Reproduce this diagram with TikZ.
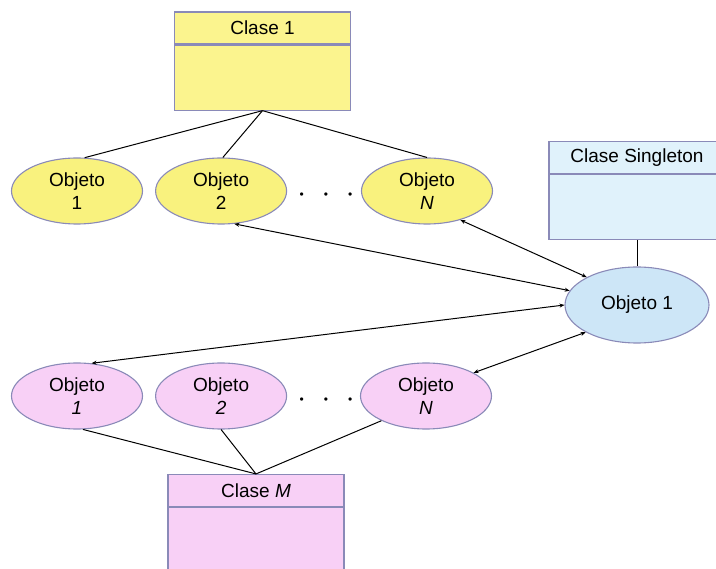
\documentclass[tikz,border=0pt]{standalone}
\usepackage{fontspec}
\setmainfont{Liberation Sans}
\usepackage{tikz}
\usetikzlibrary{arrows.meta,positioning,shapes.geometric}
\definecolor{borde}{HTML}{8A8AB8}
\definecolor{amarillo}{HTML}{F9F27E}
\definecolor{amarillobox}{HTML}{FBF48E}
\definecolor{rosa}{HTML}{F8D0F6}
\definecolor{azul}{HTML}{CDE6F7}
\definecolor{azulbox}{HTML}{E0F2FB}

\begin{document}
\begin{tikzpicture}[x=1pt,y=-1pt,
  obj/.style={ellipse,draw=borde,line width=1.1pt,minimum width=131pt,minimum height=66pt,
              inner sep=0pt,align=center,font=\fontsize{19}{23}\selectfont},
  cab/.style={draw=borde,line width=1.1pt,minimum width=176pt,minimum height=32pt,
              inner sep=0pt,font=\fontsize{19}{23}\selectfont},
  cuerpo/.style={draw=borde,line width=1.1pt,minimum width=176pt,minimum height=65pt,inner sep=0pt},
  puntos/.style={font=\fontsize{12}{12}\selectfont,inner sep=0pt},
  lin/.style={draw=black,line width=1pt},
  arr/.style={{Stealth[length=5pt,width=4pt]}-{Stealth[length=5pt,width=4pt]},draw=black,line width=1pt}
]
\useasboundingbox (0,0) rectangle (716,569);

% clase 1 y sus objetos
\node[cab,fill=amarillobox] (cab1) at (262.5,28) {Clase 1};
\node[cuerpo,fill=amarillobox,below=0pt of cab1] (cuerpo1) {};
\node[obj,fill=amarillo] (ya1) at (77,191) {Objeto\\1};
\node[obj,fill=amarillo,right=12pt of ya1] (ya2) {Objeto\\2};
\node[obj,fill=amarillo] (yaN) at (427,191) {Objeto\\\textit{N}};
\node[puntos] (dots1) at (326,196) {\textbullet\hspace{20pt}\textbullet\hspace{20pt}\textbullet};

% clase singleton
\node[cab,fill=azulbox] (cabS) at (637,157.5) {Clase Singleton};
\node[cuerpo,fill=azulbox,below=0pt of cabS] (cuerpoS) {};
\node[obj,fill=azul,minimum width=144pt,minimum height=76pt] (single) at (637,305) {Objeto 1};

% clase M y sus objetos
\node[cab,fill=rosa] (cabM) at (256,490.5) {Clase \textit{M}};
\node[cuerpo,fill=rosa,below=0pt of cabM] (cuerpoM) {};
\node[obj,fill=rosa] (ro1) at (77,396) {Objeto\\\textit{1}};
\node[obj,fill=rosa,right=12pt of ro1] (ro2) {Objeto\\\textit{2}};
\node[obj,fill=rosa] (roN) at (426,396) {Objeto\\\textit{N}};
\node[puntos] (dots2) at (326,401) {\textbullet\hspace{20pt}\textbullet\hspace{20pt}\textbullet};

\draw[lin] (cuerpo1.south) -- (ya1.77);
\draw[lin] (cuerpo1.south) -- (ya2.87);
\draw[lin] (cuerpo1.south) -- (yaN.north);
\draw[lin] (cuerpoS.south) -- (single.north);
\draw[lin] (cabM.north) -- (ro1.-80);
\draw[lin] (cabM.north) -- (ro2.south);
\draw[lin] (cabM.north) -- (roN.209);

\draw[arr] (ya2.-68) -- (single.168);
\draw[arr] (yaN.-41) -- (single.151);
\draw[arr] (ro1.66) -- (single.180);
\draw[arr] (roN.26) -- (single.208);
\end{tikzpicture}
\end{document}
